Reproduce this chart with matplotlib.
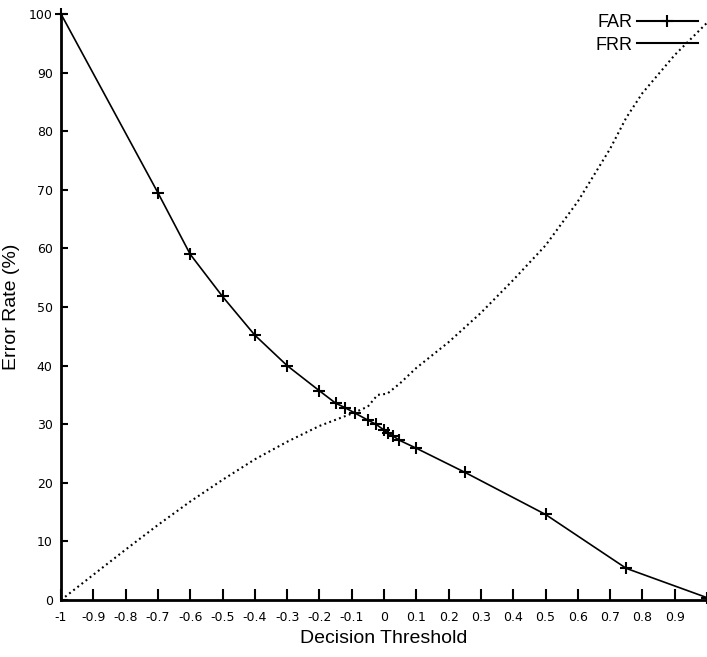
import matplotlib
matplotlib.use("Agg")
import matplotlib.pyplot as plt
from matplotlib.lines import Line2D

# FAR: solid line with "+" markers at each sampled threshold
far_x = [-1.0, -0.7, -0.6, -0.5, -0.4, -0.3, -0.2, -0.15, -0.12, -0.09,
         -0.05, -0.025, 0.0, 0.012, 0.028, 0.046, 0.1, 0.25, 0.5, 0.75, 1.0]
far_y = [100.0, 69.5, 59.0, 51.8, 45.2, 40.0, 35.7, 33.6, 32.8, 31.9,
         30.7, 30.0, 29.0, 28.5, 28.0, 27.3, 25.9, 21.8, 14.6, 5.4, 0.4]

# FRR: dotted line, no markers
frr_x = [-1.0, -0.9, -0.8, -0.7, -0.6, -0.5, -0.4, -0.3, -0.2, -0.1,
         -0.05, -0.02, 0.01, 0.05, 0.1, 0.2, 0.3, 0.4, 0.5,
         0.6, 0.7, 0.75, 0.8, 0.9, 1.0]
frr_y = [0.0, 4.3, 8.6, 12.8, 16.8, 20.5, 24.0, 27.0, 29.7, 31.8,
         33.0, 35.0, 35.2, 37.0, 39.6, 44.0, 49.0, 54.6, 60.5,
         68.0, 77.0, 82.3, 86.5, 93.0, 98.5]

xticks = [-1, -0.9, -0.8, -0.7, -0.6, -0.5, -0.4, -0.3, -0.2, -0.1,
          0, 0.1, 0.2, 0.3, 0.4, 0.5, 0.6, 0.7, 0.8, 0.9]
xticklabels = ["-1", "-0.9", "-0.8", "-0.7", "-0.6", "-0.5", "-0.4", "-0.3",
               "-0.2", "-0.1", "0", "0.1", "0.2", "0.3", "0.4", "0.5",
               "0.6", "0.7", "0.8", "0.9"]
yticks = [0, 10, 20, 30, 40, 50, 60, 70, 80, 90, 100]

fig = plt.figure(figsize=(7.07, 6.57), dpi=100)
ax = fig.add_axes([61 / 707, 1 - 600 / 657, 646 / 707, 586 / 657])

ax.plot(far_x, far_y, color="black", lw=1.2, marker="+", ms=8, mew=1.5,
        clip_on=False)
ax.plot(frr_x, frr_y, color="black", lw=1.5, ls=(0, (0.9, 1.6)),
        clip_on=False)

ax.set_xlim(-1, 1)
ax.set_ylim(0, 100)
ax.set_xticks(xticks)
ax.set_xticklabels(xticklabels)
ax.set_yticks(yticks)

for side in ("top", "right"):
    ax.spines[side].set_visible(False)
for side in ("left", "bottom"):
    ax.spines[side].set_linewidth(2)

ax.tick_params(axis="x", direction="in", length=8, width=1.5, labelsize=9,
               pad=8)
ax.tick_params(axis="y", direction="in", length=5, width=1.5, labelsize=9,
               pad=6)

lab_font = dict(family="Liberation Sans", size=14)
ax.set_xlabel("Decision Threshold", fontdict=lab_font, labelpad=4)
ax.set_ylabel("Error Rate (%)", fontdict=lab_font, labelpad=6)

handles = [Line2D([], [], color="black", lw=1.5, marker="+", ms=9, mew=1.5),
           Line2D([], [], color="black", lw=1.5)]
ax.legend(handles, ["FAR", "FRR"], loc="upper right", frameon=False,
          markerfirst=False, handlelength=3.4, handletextpad=0.2,
          labelspacing=0.3, borderaxespad=0.1,
          prop={"family": "Liberation Sans", "size": 13},
          bbox_to_anchor=(1.0, 1.015))

fig.savefig("out.png", dpi=100)
